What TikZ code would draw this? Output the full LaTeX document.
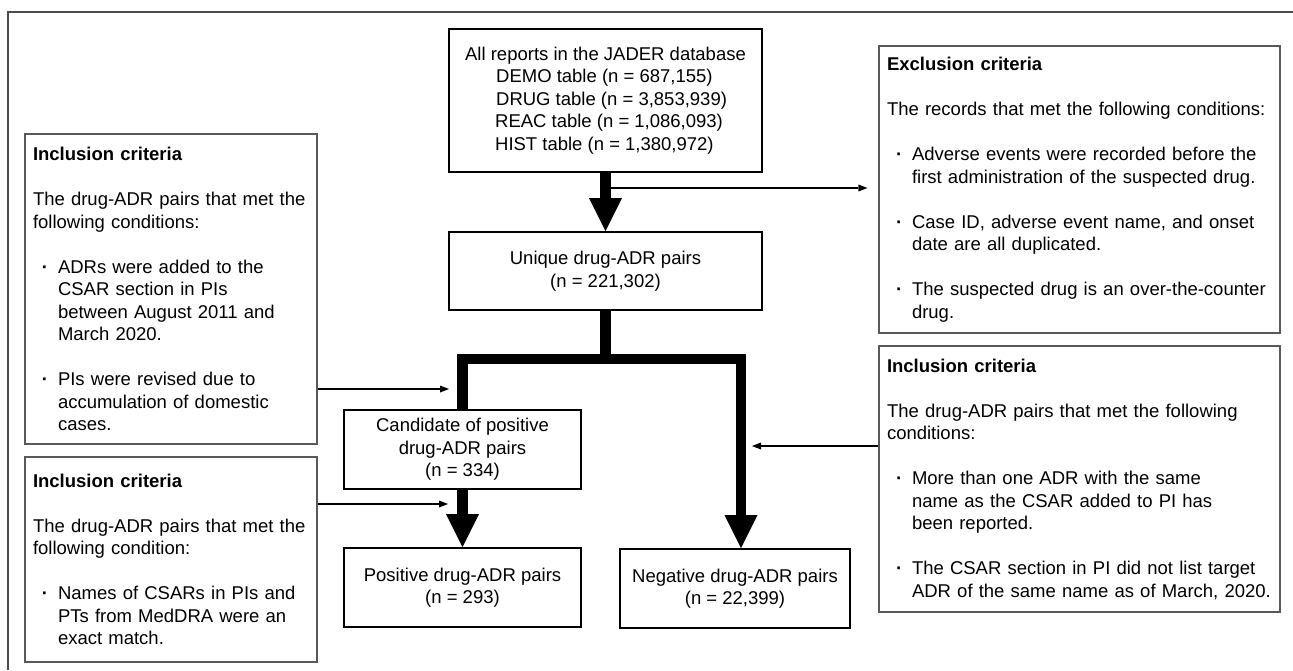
\documentclass[tikz,border=0pt]{standalone}
\usepackage{fontspec}
\setmainfont{Liberation Sans}
\usetikzlibrary{arrows.meta}

\newcommand{\bpt}{\makebox[25pt][l]{\hspace{9pt}\textbf{·}}}
\newcommand{\bind}{\hspace*{25pt}}

\tikzset{
  flowbox/.style={draw=black, line width=1.8pt, align=center, inner sep=0pt},
  critbox/.style={draw=black!65, line width=1.2pt, align=left, inner xsep=8pt, inner ysep=0pt},
  bigline/.style={line width=10.5pt},
  bigarrow/.style={line width=10.5pt, -{Triangle[length=33pt,width=33pt,line width=0pt]}},
  thinarrow/.style={line width=1.3pt, -{Triangle[length=9pt,width=7pt,line width=0pt]}}
}

\begin{document}
\begin{tikzpicture}[x=1pt,y=-1pt,font=\fontsize{18.5}{22.5}\selectfont]
\useasboundingbox (0,0) rectangle (1293,670);
\draw [black!70,line width=1.5pt] (8,670)--(8,12)--(1293,12);

% flow
\node [flowbox,align=left,minimum width=313pt,minimum height=143pt] (jader) at (605.5,100.5)
  {All reports in the JADER database\\
   \hspace*{31pt}DEMO table (n = 687,155)\\
   \hspace*{31pt}DRUG table (n = 3,853,939)\\
   \hspace*{30pt}REAC table (n = 1,086,093)\\
   \hspace*{30pt}HIST table (n = 1,380,972)};
\node [flowbox,minimum width=313pt,minimum height=78pt] (uniq) at (605.5,271)
  {Unique drug-ADR pairs\\(n = 221,302)};
\node [flowbox,minimum width=237pt,minimum height=79pt] (cand) at (462.5,449.5)
  {Candidate of positive\\drug-ADR pairs\\(n = 334)};
\node [flowbox,minimum width=237pt,minimum height=79pt] (pos) at (462.5,587.5)
  {Positive drug-ADR pairs\\(n = 293)};
\node [flowbox,minimum width=230pt,minimum height=79pt] (neg) at (735,588.5)
  {Negative drug-ADR pairs\\(n = 22,399)};

% criteria
\node [critbox,text width=276pt,minimum width=292pt,minimum height=310pt] (inclA) at (171,289)
  {\textbf{Inclusion criteria}\\[22.5pt]
   The drug-ADR pairs that met the\\
   following conditions:\\[22.5pt]
   \bpt ADRs were added to the\\
   \bind CSAR section in PIs\\
   \bind between August 2011 and\\
   \bind March 2020.\\[22.5pt]
   \bpt PIs were revised due to\\
   \bind accumulation of domestic\\
   \bind cases.};
\node [critbox,text width=276pt,minimum width=292pt,minimum height=205pt] (inclB) at (171,559.5)
  {\textbf{Inclusion criteria}\\[22.5pt]
   The drug-ADR pairs that met the\\
   following condition:\\[22.5pt]
   \bpt Names of CSARs in PIs and\\
   \bind PTs from MedDRA were an\\
   \bind exact match.};
\node [critbox,text width=385pt,minimum width=401pt,minimum height=287pt] (excl) at (1079.5,189.5)
  {\textbf{Exclusion criteria}\\[22.5pt]
   The records that met the following conditions:\\[22.5pt]
   \bpt Adverse events were recorded before the\\
   \bind first administration of the suspected drug.\\[22.5pt]
   \bpt Case ID, adverse event name, and onset\\
   \bind date are all duplicated.\\[22.5pt]
   \bpt The suspected drug is an over-the-counter\\
   \bind drug.};
\node [critbox,text width=385pt,minimum width=401pt,minimum height=266pt] (inclC) at (1079.5,479)
  {\textbf{Inclusion criteria}\\[22.5pt]
   The drug-ADR pairs that met the following\\
   conditions:\\[22.5pt]
   \bpt More than one ADR with the same\\
   \bind name as the CSAR added to PI has\\
   \bind been reported.\\[22.5pt]
   \bpt The CSAR section in PI did not list target\\
   \bind ADR of the same name as of March, 2020.};

% arrows
\coordinate (split) at (uniq.south |- 0,359);
\draw [bigarrow] (jader.south)--(uniq.north);
\draw [bigline] (uniq.south)--(split)-|(cand.north);
\draw [bigarrow] (split)-|([xshift=6pt]neg.north);
\draw [bigarrow] (cand.south)--(pos.north);
\draw [thinarrow,shorten >=11pt] (jader.south |- 0,188)--(excl.west |- 0,188);
\draw [thinarrow,shorten >=13.5pt] (inclA.east |- 0,389)--(cand.north |- 0,389);
\draw [thinarrow,shorten >=14.5pt] (inclB.east |- 0,504)--(cand.south |- 0,504);
\draw [thinarrow,shorten >=11pt] (inclC.west |- 0,446)--([xshift=6pt]neg.north |- 0,446);
\end{tikzpicture}
\end{document}
